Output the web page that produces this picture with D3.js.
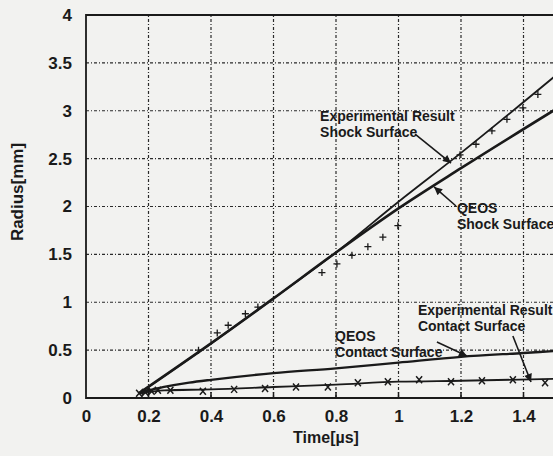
<!DOCTYPE html>
<html>
<head>
<meta charset="utf-8">
<script src="https://cdn.jsdelivr.net/npm/d3@7"></script>
<style>
  html, body { margin: 0; padding: 0; background: #f2f2f0; }
  svg { display: block; }
  text { font-family: "Liberation Sans", Arial, sans-serif; fill: #1a1a1a; }
</style>
</head>
<body>
<svg id="chart" width="553" height="456"></svg>
<script>
// ---- data ----
const xTicks = [0, 0.2, 0.4, 0.6, 0.8, 1, 1.2, 1.4];
const xTickLabels = ["0", "0.2", "0.4", "0.6", "0.8", "1", "1.2", "1.4"];
const yTicks = [0, 0.5, 1, 1.5, 2, 2.5, 3, 3.5, 4];
const yTickLabels = ["0", "0.5", "1", "1.5", "2", "2.5", "3", "3.5", "4"];

// Experimental result, shock surface (fitted line)
const expShockT = [0.17, 0.4, 0.6, 0.8, 1.0, 1.2, 1.5];
const expShockR = [0.05, 0.57, 1.04, 1.52, 2.05, 2.56, 3.36];
// Experimental result, shock surface (measured points, "+")
const expShockPtT = [0.18, 0.2, 0.36, 0.42, 0.455, 0.51, 0.55, 0.755, 0.803, 0.851, 0.902, 0.95, 0.998, 1.197, 1.248, 1.299, 1.347, 1.398, 1.446];
const expShockPtR = [0.05, 0.08, 0.50, 0.68, 0.76, 0.88, 0.95, 1.31, 1.40, 1.49, 1.58, 1.68, 1.80, 2.54, 2.65, 2.79, 2.91, 3.03, 3.17];
// QEOS, shock surface
const qeosShockT = [0.17, 0.4, 0.6, 0.8, 1.0, 1.2, 1.5];
const qeosShockR = [0.05, 0.57, 1.04, 1.52, 1.98, 2.40, 3.01];
// QEOS, contact surface
const qeosContactT = [0.17, 0.2, 0.25, 0.33, 0.4, 0.6, 0.8, 1.0, 1.2, 1.4, 1.5];
const qeosContactR = [0.05, 0.08, 0.115, 0.16, 0.19, 0.26, 0.31, 0.37, 0.43, 0.47, 0.49];
// Experimental result, contact surface (line and "x" points)
const expContactT = [0.17, 0.25, 0.4, 0.6, 0.8, 1.0, 1.2, 1.5];
const expContactR = [0.05, 0.08, 0.09, 0.115, 0.14, 0.17, 0.18, 0.20];
const expContactPtT = [0.17, 0.19, 0.21, 0.23, 0.27, 0.374, 0.474, 0.573, 0.672, 0.774, 0.87, 0.966, 1.066, 1.168, 1.267, 1.366, 1.469];
const expContactPtR = [0.05, 0.06, 0.07, 0.08, 0.08, 0.07, 0.09, 0.10, 0.115, 0.115, 0.16, 0.17, 0.19, 0.17, 0.18, 0.19, 0.16];

// annotations (text anchor in data units, arrow from/to in data units)
const annLines = [["Experimental Result", "Shock Surface"], ["QEOS", "Shock Surface"], ["QEOS", "Contact Surface"], ["Experimental Result", "Contact Surface"]];
const annT = [0.749, 1.187, 0.797, 1.062];
const annR = [2.893, 1.932, 0.595, 0.867];
const arrowFromT = [1.053, 1.184, 1.123, 1.366];
const arrowFromR = [2.757, 2.005, 0.585, 0.648];
const arrowToT = [1.168, 1.114, 1.219, 1.424];
const arrowToR = [2.454, 2.204, 0.439, 0.167];

// ---- chart ----
const svg = d3.select("#chart");
const x = d3.scaleLinear().domain([0, 1.6]).range([86, 586]);
const y = d3.scaleLinear().domain([0, 4]).range([398, 15]);
const ink = "#1a1a1a";

svg.append("defs").append("marker")
  .attr("id", "arr").attr("markerUnits", "userSpaceOnUse")
  .attr("viewBox", "0 0 10 10").attr("refX", 10).attr("refY", 5)
  .attr("markerWidth", 11).attr("markerHeight", 8).attr("orient", "auto")
  .append("path").attr("d", "M0,0 L10,5 L0,10 Z").attr("fill", ink);

// grid
const grid = svg.append("g");
grid.selectAll("line.gy").data(yTicks.filter(v => v > 0 && v < 4)).join("line")
  .attr("x1", x(0)).attr("x2", 553).attr("y1", d => y(d)).attr("y2", d => y(d))
  .attr("stroke", "#2a2a2a").attr("stroke-width", 1.2).attr("stroke-dasharray", "3,2,1,2");
grid.selectAll("line.gx").data(xTicks.filter(v => v > 0)).join("line")
  .attr("x1", d => x(d)).attr("x2", d => x(d)).attr("y1", y(0)).attr("y2", y(4))
  .attr("stroke", "#2a2a2a").attr("stroke-width", 1.2).attr("stroke-dasharray", "3,2,1,2");

// axes
const xAxis = d3.axisBottom(x).tickValues(xTicks).tickFormat((d, i) => xTickLabels[i]).tickSize(0).tickPadding(12);
const gx = svg.append("g").attr("transform", `translate(0,${y(0)})`).call(xAxis);
gx.select(".domain").remove();
gx.selectAll("text").attr("font-size", 17).attr("font-weight", "bold").attr("fill", ink);
// inward tick marks
svg.append("g").selectAll("line").data(xTicks.filter(v => v > 0)).join("line")
  .attr("x1", d => x(d)).attr("x2", d => x(d)).attr("y1", y(0)).attr("y2", y(0) - 6)
  .attr("stroke", ink).attr("stroke-width", 1.5);

const yAxis = d3.axisLeft(y).tickValues(yTicks).tickFormat((d, i) => yTickLabels[i]).tickSize(0).tickPadding(14);
const gy = svg.append("g").attr("transform", `translate(${x(0)},0)`).call(yAxis);
gy.select(".domain").remove();
gy.selectAll("text").attr("font-size", 17).attr("font-weight", "bold").attr("fill", ink);

// frame
svg.append("path")
  .attr("d", `M553,${y(4)} L${x(0)},${y(4)} L${x(0)},${y(0)} L553,${y(0)}`)
  .attr("fill", "none").attr("stroke", ink).attr("stroke-width", 1.8);

// titles
svg.append("text").attr("x", 326).attr("y", 443).attr("text-anchor", "middle")
  .attr("font-size", 16).attr("font-weight", "bold").text("Time[µs]");
svg.append("text").attr("transform", "translate(23,192) rotate(-90)").attr("text-anchor", "middle")
  .attr("font-size", 17).attr("font-weight", "bold").text("Radius[mm]");

// lines
const line = d3.line().x(d => x(d[0])).y(d => y(d[1])).curve(d3.curveMonotoneX);
const plot = svg.append("g");
function drawLine(ts, rs, w) {
  plot.append("path").datum(ts.map((t, i) => [t, rs[i]]))
    .attr("d", line).attr("fill", "none").attr("stroke", ink).attr("stroke-width", w);
}
drawLine(expShockT, expShockR, 1.8);
drawLine(qeosShockT, qeosShockR, 2.6);
drawLine(qeosContactT, qeosContactR, 2.3);
drawLine(expContactT, expContactR, 1.8);

// "+" markers
plot.append("g").selectAll("path").data(expShockPtT.map((t, i) => [t, expShockPtR[i]])).join("path")
  .attr("d", d => `M${x(d[0]) - 3.5},${y(d[1])} h7 M${x(d[0])},${y(d[1]) - 3.5} v7`)
  .attr("stroke", ink).attr("stroke-width", 1.3).attr("fill", "none");
// "x" markers
plot.append("g").selectAll("path").data(expContactPtT.map((t, i) => [t, expContactPtR[i]])).join("path")
  .attr("d", d => `M${x(d[0]) - 3},${y(d[1]) - 3.5} l6,7 M${x(d[0]) + 3},${y(d[1]) - 3.5} l-6,7`)
  .attr("stroke", ink).attr("stroke-width", 1.5).attr("fill", "none");

// annotations
const ann = svg.append("g");
annLines.forEach((lines, i) => {
  lines.forEach((s, j) => {
    ann.append("text").attr("x", x(annT[i])).attr("y", y(annR[i]) + j * 16)
      .attr("font-size", 14).attr("font-weight", "bold").attr("fill", "#222").text(s);
  });
  ann.append("line")
    .attr("x1", x(arrowFromT[i])).attr("y1", y(arrowFromR[i]))
    .attr("x2", x(arrowToT[i])).attr("y2", y(arrowToR[i]))
    .attr("stroke", ink).attr("stroke-width", 1.6).attr("marker-end", "url(#arr)");
});
</script>
</body>
</html>
